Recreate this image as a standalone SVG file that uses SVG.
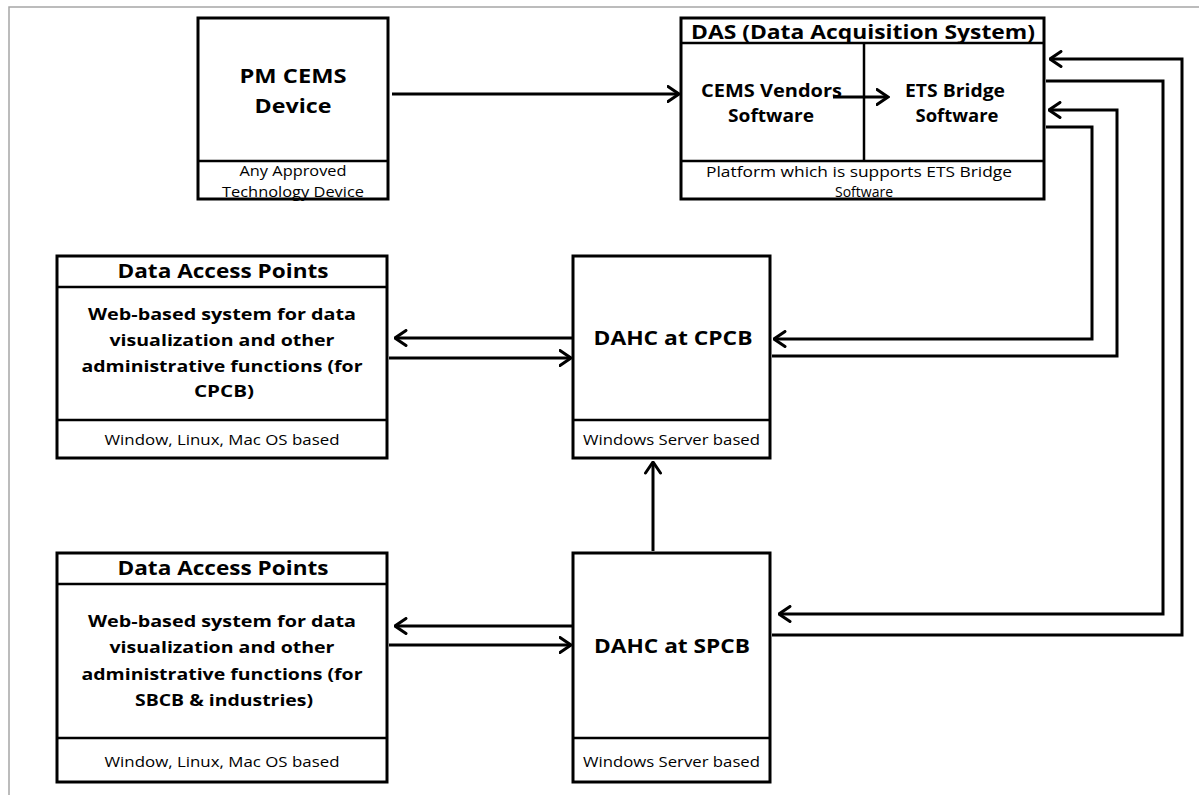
<svg xmlns="http://www.w3.org/2000/svg" width="1199" height="795" viewBox="0 0 1199 795">
<style>
text{font-family:"Open Sans","Liberation Sans",sans-serif;fill:#000;text-anchor:middle}
.h{font-size:19px;font-weight:bold}
.m{font-size:17px;font-weight:bold}
.p{font-size:16px;font-weight:bold}
.s{font-size:14px}
.box{fill:#fff;stroke:#000;stroke-width:3}
.div{stroke:#000;stroke-width:2.5;fill:none}
.c{stroke:#000;stroke-width:3;fill:none;stroke-linejoin:miter}
.frame{stroke:#a6a6a6;stroke-width:1.5;fill:none}
</style>
<defs>
<marker id="ah" viewBox="0 0 14 18" refX="12.5" refY="9" markerWidth="14" markerHeight="18" markerUnits="userSpaceOnUse" orient="auto">
<path d="M1.5,1.5 L12.5,9 L1.5,16.5" fill="none" stroke="#000" stroke-width="3" stroke-linecap="round"/>
</marker>
</defs>
<rect width="1199" height="795" fill="#fff"/>
<path class="frame" d="M9,795 V7 H1199"/>

<g id="pm-cems">
<rect class="box" x="198" y="18" width="190" height="181"/>
<line class="div" x1="198" y1="161" x2="388" y2="161"/>
<text class="h" x="293" y="83" textLength="107" lengthAdjust="spacingAndGlyphs">PM CEMS</text>
<text class="h" x="293" y="113" textLength="77" lengthAdjust="spacingAndGlyphs">Device</text>
<text class="s" x="293" y="176" textLength="107" lengthAdjust="spacingAndGlyphs">Any Approved</text>
<text class="s" x="293" y="197" textLength="142" lengthAdjust="spacingAndGlyphs">Technology Device</text>
</g>

<g id="das">
<rect class="box" x="681" y="18" width="363" height="181"/>
<line class="div" x1="681" y1="43" x2="1044" y2="43"/>
<line class="div" x1="681" y1="161" x2="1044" y2="161"/>
<line class="div" x1="864" y1="43" x2="864" y2="161"/>
<text class="h" x="863" y="38.5" textLength="344" lengthAdjust="spacingAndGlyphs">DAS (Data Acquisition System)</text>
<text class="m" x="771.5" y="97" textLength="141" lengthAdjust="spacingAndGlyphs">CEMS Vendors</text>
<text class="m" x="771" y="122" textLength="86" lengthAdjust="spacingAndGlyphs">Software</text>
<text class="m" x="955" y="97" textLength="100" lengthAdjust="spacingAndGlyphs">ETS Bridge</text>
<text class="m" x="957" y="122" textLength="83" lengthAdjust="spacingAndGlyphs">Software</text>
<text class="s" x="859" y="177" textLength="306" lengthAdjust="spacingAndGlyphs">Platform which is supports ETS Bridge</text>
<text class="s" x="864" y="197" textLength="58" lengthAdjust="spacingAndGlyphs">Software</text>
</g>

<g id="dap-cpcb">
<rect class="box" x="57" y="256" width="330" height="202"/>
<line class="div" x1="57" y1="287" x2="387" y2="287"/>
<line class="div" x1="57" y1="420" x2="387" y2="420"/>
<text class="h" x="223" y="278" textLength="211" lengthAdjust="spacingAndGlyphs">Data Access Points</text>
<text class="p" x="222" y="320" textLength="268" lengthAdjust="spacingAndGlyphs">Web-based system for data</text>
<text class="p" x="222" y="346" textLength="225" lengthAdjust="spacingAndGlyphs">visualization and other</text>
<text class="p" x="222" y="372" textLength="281" lengthAdjust="spacingAndGlyphs">administrative functions (for</text>
<text class="p" x="224" y="397" textLength="60" lengthAdjust="spacingAndGlyphs">CPCB)</text>
<text class="s" x="222" y="445" textLength="235" lengthAdjust="spacingAndGlyphs">Window, Linux, Mac OS based</text>
</g>

<g id="dahc-cpcb">
<rect class="box" x="573" y="256" width="197" height="202"/>
<line class="div" x1="573" y1="420" x2="770" y2="420"/>
<text class="h" x="673" y="345" textLength="159" lengthAdjust="spacingAndGlyphs">DAHC at CPCB</text>
<text class="s" x="671.5" y="445" textLength="177" lengthAdjust="spacingAndGlyphs">Windows Server based</text>
</g>

<g id="dap-spcb">
<rect class="box" x="57" y="553" width="330" height="229"/>
<line class="div" x1="57" y1="584" x2="387" y2="584"/>
<line class="div" x1="57" y1="738" x2="387" y2="738"/>
<text class="h" x="223" y="575" textLength="211" lengthAdjust="spacingAndGlyphs">Data Access Points</text>
<text class="p" x="222" y="627" textLength="268" lengthAdjust="spacingAndGlyphs">Web-based system for data</text>
<text class="p" x="222" y="653" textLength="225" lengthAdjust="spacingAndGlyphs">visualization and other</text>
<text class="p" x="222" y="680" textLength="281" lengthAdjust="spacingAndGlyphs">administrative functions (for</text>
<text class="p" x="224" y="706" textLength="178" lengthAdjust="spacingAndGlyphs">SBCB &amp; industries)</text>
<text class="s" x="222" y="767" textLength="235" lengthAdjust="spacingAndGlyphs">Window, Linux, Mac OS based</text>
</g>

<g id="dahc-spcb">
<rect class="box" x="573" y="553" width="197" height="229"/>
<line class="div" x1="573" y1="738" x2="770" y2="738"/>
<text class="h" x="672" y="653" textLength="156" lengthAdjust="spacingAndGlyphs">DAHC at SPCB</text>
<text class="s" x="671.5" y="767" textLength="177" lengthAdjust="spacingAndGlyphs">Windows Server based</text>
</g>

<g id="connectors">
<path class="c" d="M392,94 H679" marker-end="url(#ah)"/>
<path class="c" d="M833,97 H888" marker-end="url(#ah)"/>
<path class="c" d="M772,635 H1182 V59 H1050" marker-end="url(#ah)"/>
<path class="c" d="M1046,81 H1163 V614 H779" marker-end="url(#ah)"/>
<path class="c" d="M772,356 H1117 V110 H1049" marker-end="url(#ah)"/>
<path class="c" d="M1046,127 H1092 V339 H774" marker-end="url(#ah)"/>
<path class="c" d="M572,338 H395" marker-end="url(#ah)"/>
<path class="c" d="M389,358 H571" marker-end="url(#ah)"/>
<path class="c" d="M572,626 H395" marker-end="url(#ah)"/>
<path class="c" d="M389,645 H571" marker-end="url(#ah)"/>
<path class="c" d="M653,551 V462" marker-end="url(#ah)"/>
</g>
</svg>
